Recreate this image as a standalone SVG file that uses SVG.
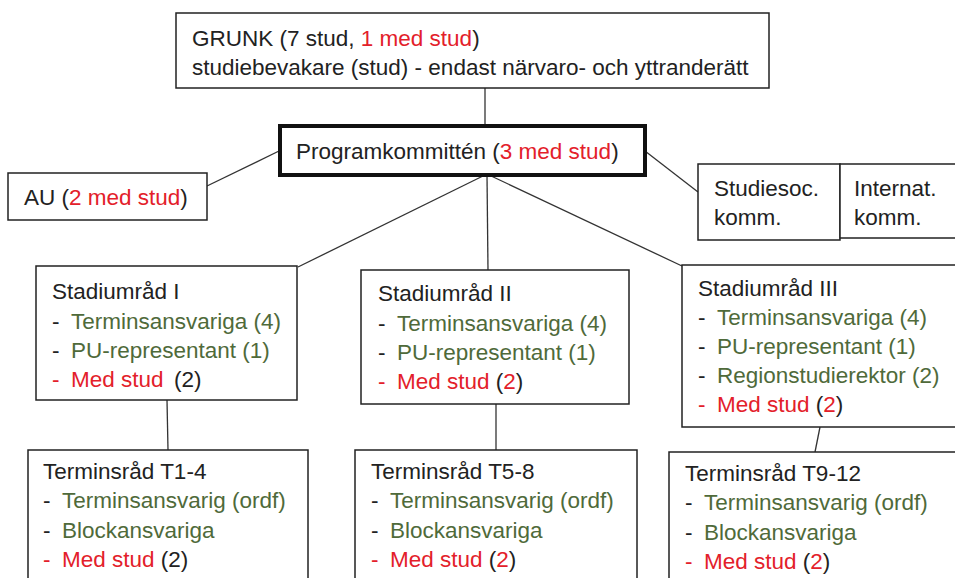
<svg xmlns="http://www.w3.org/2000/svg" width="955" height="578" viewBox="0 0 955 578">
<style>
.box{fill:#fff;stroke:#222;stroke-width:1.5}
.thick{fill:#fff;stroke:#111;stroke-width:4}
.ln{stroke:#333;stroke-width:1.3;fill:none}
text{font-family:"Liberation Sans",Arial,sans-serif;font-size:22.5px;fill:#222}
.g{fill:#4f6a3a}
.r{fill:#e3202a}
.k{fill:#222}
</style>
<rect width="955" height="578" fill="#fff"/>
<g id="connectors">
<line class="ln" x1="485" y1="88" x2="485" y2="125"/>
<line class="ln" x1="207" y1="186" x2="279" y2="151"/>
<line class="ln" x1="645" y1="151" x2="698" y2="192"/>
<line class="ln" x1="485" y1="175" x2="298" y2="267"/>
<line class="ln" x1="487" y1="175" x2="488" y2="270"/>
<line class="ln" x1="489" y1="175" x2="682" y2="266"/>
<line class="ln" x1="167" y1="400" x2="168" y2="450"/>
<line class="ln" x1="496" y1="404" x2="496" y2="450"/>
<line class="ln" x1="820" y1="427" x2="815" y2="452"/>
</g>
<g id="grunk">
<rect class="box" x="176" y="13" width="593" height="75"/>
<text x="192" y="46">GRUNK (7 stud, <tspan class="r">1 med stud</tspan>)</text>
<text x="192" y="75">studiebevakare (stud) - endast närvaro- och yttranderätt</text>
</g>
<g id="programkommitten">
<rect class="thick" x="280" y="126" width="365" height="49"/>
<text x="296" y="159">Programkommittén (<tspan class="r">3 med stud</tspan>)</text>
</g>
<g id="au">
<rect class="box" x="8" y="173" width="199" height="47"/>
<text x="24" y="205">AU (<tspan class="r">2 med stud</tspan>)</text>
</g>
<g id="studiesoc">
<rect class="box" x="698" y="164" width="142" height="76"/>
<text x="714" y="196">Studiesoc.</text>
<text x="714" y="225">komm.</text>
</g>
<g id="internat">
<rect class="box" x="840" y="164" width="120" height="74"/>
<text x="854" y="196">Internat.</text>
<text x="854" y="225">komm.</text>
</g>
<g id="stadium1">
<rect class="box" x="36" y="266" width="261" height="134"/>
<text x="52" y="299">Stadiumråd I</text>
<text x="52" y="329"><tspan class="k">-</tspan><tspan class="g" x="71">Terminsansvariga (4)</tspan></text>
<text x="52" y="358"><tspan class="k">-</tspan><tspan class="g" x="71">PU-representant (1)</tspan></text>
<text x="52" y="387"><tspan class="r">-</tspan><tspan class="r" x="71">Med stud</tspan><tspan x="174">(2)</tspan></text>
</g>
<g id="stadium2">
<rect class="box" x="361" y="270" width="268" height="134"/>
<text x="378" y="301">Stadiumråd II</text>
<text x="378" y="331"><tspan class="k">-</tspan><tspan class="g" x="397">Terminsansvariga (4)</tspan></text>
<text x="378" y="360"><tspan class="k">-</tspan><tspan class="g" x="397">PU-representant (1)</tspan></text>
<text x="378" y="389"><tspan class="r">-</tspan><tspan class="r" x="397">Med stud</tspan> (<tspan class="r">2</tspan>)</text>
</g>
<g id="stadium3">
<rect class="box" x="682" y="265" width="280" height="162"/>
<text x="698" y="296">Stadiumråd III</text>
<text x="698" y="325"><tspan class="k">-</tspan><tspan class="g" x="717">Terminsansvariga (4)</tspan></text>
<text x="698" y="354"><tspan class="k">-</tspan><tspan class="g" x="717">PU-representant (1)</tspan></text>
<text x="698" y="383"><tspan class="k">-</tspan><tspan class="g" x="717">Regionstudierektor (2)</tspan></text>
<text x="698" y="412"><tspan class="r">-</tspan><tspan class="r" x="717">Med stud</tspan> (<tspan class="r">2</tspan>)</text>
</g>
<g id="termin1">
<rect class="box" x="28" y="450" width="280" height="140"/>
<text x="43" y="479">Terminsråd T1-4</text>
<text x="43" y="508"><tspan class="k">-</tspan><tspan class="g" x="62">Terminsansvarig (ordf)</tspan></text>
<text x="43" y="538"><tspan class="k">-</tspan><tspan class="g" x="62">Blockansvariga</tspan></text>
<text x="43" y="567"><tspan class="r">-</tspan><tspan class="r" x="62">Med stud</tspan> (2)</text>
</g>
<g id="termin2">
<rect class="box" x="355" y="450" width="282" height="140"/>
<text x="371" y="479">Terminsråd T5-8</text>
<text x="371" y="508"><tspan class="k">-</tspan><tspan class="g" x="390">Terminsansvarig (ordf)</tspan></text>
<text x="371" y="538"><tspan class="k">-</tspan><tspan class="g" x="390">Blockansvariga</tspan></text>
<text x="371" y="567"><tspan class="r">-</tspan><tspan class="r" x="390">Med stud</tspan> (<tspan class="r">2</tspan>)</text>
</g>
<g id="termin3">
<rect class="box" x="669" y="452" width="295" height="140"/>
<text x="685" y="481">Terminsråd T9-12</text>
<text x="685" y="510"><tspan class="k">-</tspan><tspan class="g" x="704">Terminsansvarig (ordf)</tspan></text>
<text x="685" y="540"><tspan class="k">-</tspan><tspan class="g" x="704">Blockansvariga</tspan></text>
<text x="685" y="569"><tspan class="r">-</tspan><tspan class="r" x="704">Med stud</tspan> (<tspan class="r">2</tspan>)</text>
</g>
</svg>
